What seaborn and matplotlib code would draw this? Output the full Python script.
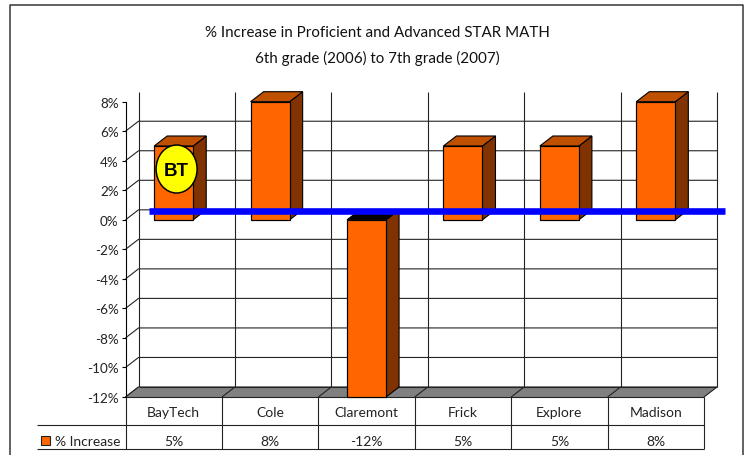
import matplotlib
matplotlib.use('Agg')
import matplotlib.pyplot as plt
from matplotlib.lines import Line2D
from matplotlib.patches import Ellipse, Polygon, Rectangle
import seaborn as sns

schools = ['BayTech', 'Cole', 'Claremont', 'Frick', 'Explore', 'Madison']
increase = [5, 8, -12, 5, 5, 8]
table_labels = ['5%', '8%', '-12%', '5%', '5%', '8%']
y_ticks = [8, 6, 4, 2, 0, -2, -4, -6, -8, -10, -12]
title_lines = ['% Increase in Proficient and Advanced STAR MATH',
               '6th grade (2006) to 7th grade (2007)']
series_name = '% Increase'

W, H = 749, 456
PX = 72 / 100
FRONT, TOP, SIDE = '#FF6600', '#BF5000', '#803300'
FONT = 'Lato'

sns.set_theme(style='white')
plt.rcParams['font.family'] = [FONT, 'DejaVu Sans']

fig = plt.figure(figsize=(W / 100, H / 100), dpi=100)
left, right, top, bottom = 125.5, 704, 102.7, 398
ax = fig.add_axes([left / W, 1 - bottom / H, (right - left) / W, (bottom - top) / H])

sns.barplot(x=schools, y=increase, color=FRONT, saturation=1, width=0.405,
            edgecolor='black', linewidth=1.2 * PX, ax=ax, zorder=5)
ax.set_xlim(-0.5, 5.5)
ax.set_ylim(-12, 8)
ax.patch.set_alpha(0)

# pixel sizes expressed in data units
ux = (right - left) / 6
uy = (bottom - top) / 20
dx, dy = 13 / ux, 10 / uy
n = len(schools)
line = dict(color='#222222', lw=1.1 * PX, clip_on=False, solid_capstyle='butt')

# back wall and side wall
for v in y_ticks[1:]:
    ax.plot([-0.5, -0.5 + dx, n - 0.5 + dx], [v, v + dy, v + dy], zorder=1, **line)
for i in range(n + 1):
    ax.plot([i - 0.5 + dx] * 2, [-12 + dy, 8 + dy], zorder=1, **line)

# floor
ax.add_patch(Polygon([(-0.5, -12), (-0.5 + dx, -12 + dy), (n - 0.5 + dx, -12 + dy), (n - 0.5, -12)],
                     closed=True, fc='#808080', ec='none', clip_on=False, zorder=2))
for i in range(n + 1):
    ax.plot([i - 0.5, i - 0.5 + dx], [-12, -12 + dy], zorder=3, **line)
ax.plot([-0.5 + dx, n - 0.5 + dx], [-12 + dy, -12 + dy], zorder=3, **line)

# depth faces of the bars, taken from the bars seaborn drew
for bar, val in zip(ax.patches, increase):
    x0 = bar.get_x()
    x1 = x0 + bar.get_width()
    hi = max(val, 0)
    lo = min(val, 0)
    ax.add_patch(Polygon([(x1, lo), (x1 + dx, lo + dy), (x1 + dx, hi + dy), (x1, hi)], closed=True,
                         fc=SIDE, ec='black', lw=1.1 * PX, clip_on=False, zorder=4))
    ax.add_patch(Polygon([(x0, hi), (x0 + dx, hi + dy), (x1 + dx, hi + dy), (x1, hi)], closed=True,
                         fc=TOP if val > 0 else 'black', ec='black', lw=1.1 * PX,
                         clip_on=False, zorder=4))
    bar.set_clip_on(False)

# blue marker line and BT badge
ax.plot([-0.26, 5.716], [0.58, 0.58], color='#0000FF', lw=6.6 * PX,
        solid_capstyle='butt', clip_on=False, zorder=7)
ax.add_patch(Ellipse((0.03, 3.44), 41 / ux, 48 / uy, fc='#FFFF00', ec='black',
                     lw=1.5 * PX, zorder=8))
ax.text(0.03, 3.36, 'BT', family='Liberation Sans', weight='bold', fontsize=13.5,
        color='black', ha='center', va='center', zorder=9)

# axes
for side in ['top', 'right', 'bottom']:
    ax.spines[side].set_visible(False)
ax.spines['left'].set_color('black')
ax.spines['left'].set_linewidth(1.1 * PX)
ax.spines['left'].set_zorder(3)
ax.set_yticks(y_ticks)
ax.set_yticklabels([f'{v}%' for v in y_ticks])
ax.tick_params(axis='y', left=True, length=3 * PX * 1.3, width=1.1 * PX, color='black',
               pad=2.2, labelsize=9.7, labelcolor='#222222')
ax.set_xticks([])
ax.set_xlabel('')
ax.set_ylabel('')

# data table under the plot
row1 = -12 - 27.7 / uy
row2 = -12 - 51.7 / uy
key_left = -0.5 - 89 / ux
ax.plot([-0.5, n - 0.5], [-12, -12], zorder=4, **line)
ax.plot([key_left, n - 0.5], [row1, row1], zorder=4, **line)
ax.plot([key_left, n - 0.5], [row2, row2], zorder=4, **line)
for i in range(n + 1):
    ax.plot([i - 0.5, i - 0.5], [-12, row2], zorder=4, **line)
name_y = row1 + 12.5 / uy
value_y = row2 + 8 / uy
for i, (name, lab) in enumerate(zip(schools, table_labels)):
    ax.text(i, name_y, name, ha='center', va='center', fontsize=10, color='#222222')
    ax.text(i, value_y, lab, ha='center', va='center', fontsize=10, color='#222222')
ax.add_patch(Rectangle((-0.5 - 84.5 / ux, row2 + 4 / uy), 9 / ux, 9 / uy, fc=FRONT, ec='#222222',
                       lw=1.1 * PX, clip_on=False, zorder=4))
ax.text(-0.5 - 71 / ux, value_y, series_name, ha='left', va='center',
        fontsize=10, color='#222222')

# title
fig.text(377 / W, 1 - 33 / H, title_lines[0], ha='center', va='center', fontsize=10.9, color='#111111')
fig.text(377 / W, 1 - 58 / H, title_lines[1], ha='center', va='center', fontsize=10.9, color='#111111')

# outer frame, open at the bottom
fig.add_artist(Line2D([9.5 / W, 9.5 / W, 743 / W, 743 / W], [0, 1 - 5.5 / H, 1 - 5.5 / H, 0],
                      color='#333333', lw=1.5 * PX))

fig.savefig('out.png', dpi=100)
